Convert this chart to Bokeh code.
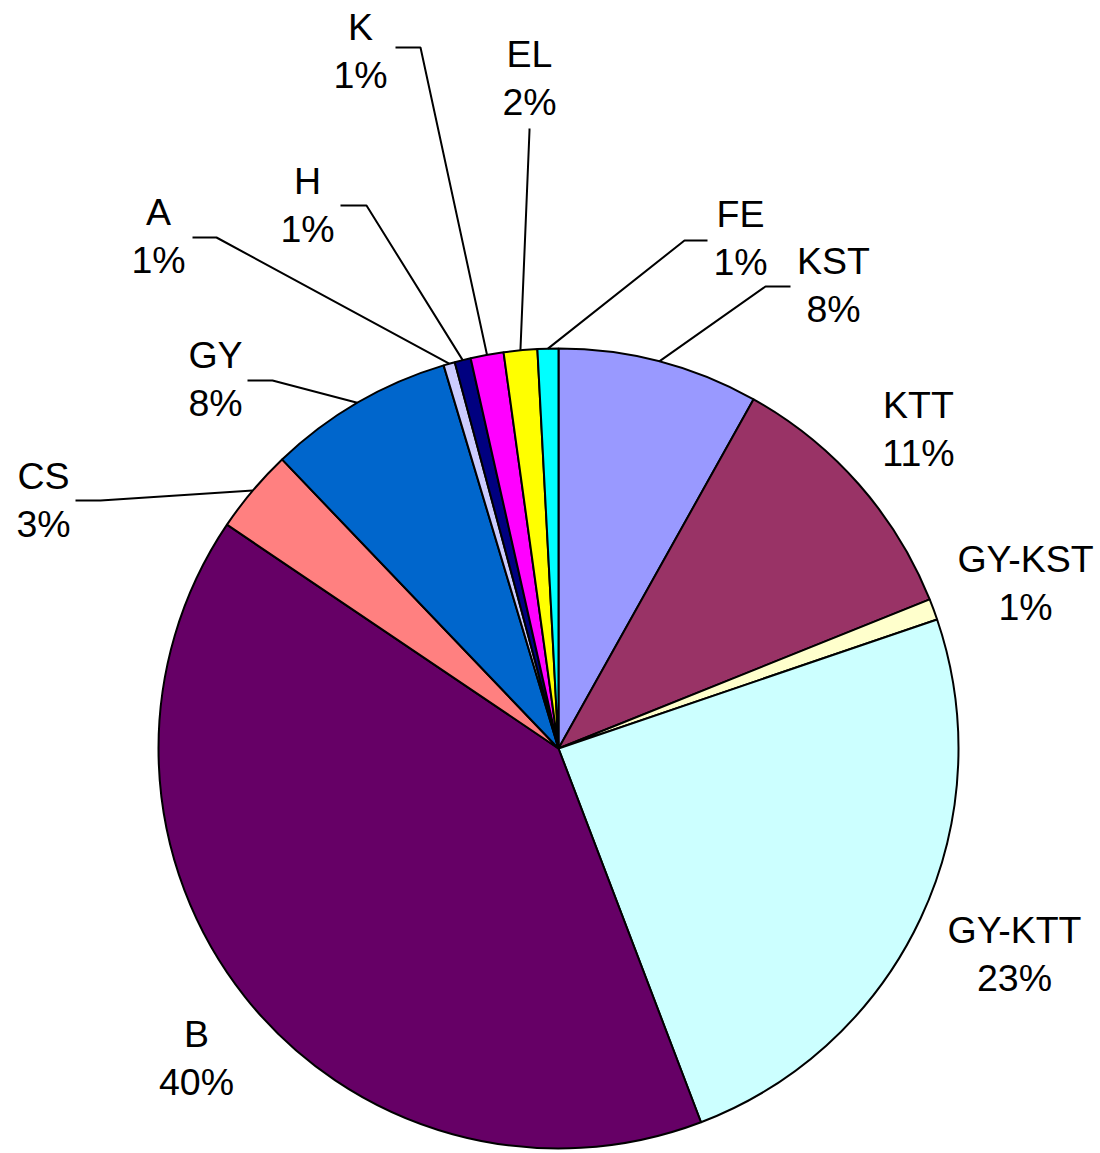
import math
from bokeh.plotting import figure
from bokeh.models import Range1d
from bokeh.core.properties import value
from bokeh.embed import file_html
from bokeh.resources import INLINE

# ---- data (clockwise from 12 o'clock) ----
categories = ["KST", "KTT", "GY-KST", "GY-KTT", "B", "CS", "GY", "A", "H", "K", "EL", "FE"]
shares = [8.1, 10.8, 0.85, 24.4, 40.2, 3.4, 7.5, 0.46, 0.65, 1.33, 1.35, 0.84]
pct_labels = ["8%", "11%", "1%", "23%", "40%", "3%", "8%", "1%", "1%", "1%", "2%", "1%"]
colors = ["#9999FF", "#993366", "#FFFFCC", "#CCFFFF", "#660066", "#FF8080",
          "#0066CC", "#CCCCFF", "#000080", "#FF00FF", "#FFFF00", "#00FFFF"]

# ---- layout (page pixel coordinates, y downward) ----
W, H = 1100, 1153
CX, CY, R = 558, 748, 400
label_pos = {
    "KST": (833, 260), "KTT": (918, 404), "GY-KST": (1025, 558), "GY-KTT": (1014, 929),
    "B": (196, 1033), "CS": (43, 475), "GY": (215, 354), "A": (158, 211),
    "H": (307, 180), "K": (360, 26), "EL": (529, 53), "FE": (740, 213),
}
LINE_GAP = 48.5
# leader: (start x, start y, elbow x, elbow y)
leaders = {
    "FE": (707, 240, 684, 240), "KST": (790, 286, 765, 286), "GY": (247, 380, 272, 380),
    "CS": (75, 500, 100, 500), "A": (192, 237, 216, 237), "H": (340, 205, 366, 205),
    "K": (395, 47, 420, 47), "EL": (529, 128, 529, 130),
}

def fy(y):
    return H - y

p = figure(width=W, height=H, output_backend="svg", toolbar_location=None,
           x_range=Range1d(0, W), y_range=Range1d(0, H),
           min_border=0, outline_line_color=None)
p.axis.visible = False
p.grid.visible = False
p.background_fill_color = "white"
p.border_fill_color = "white"

total = sum(shares)
cum = 0.0
starts, ends, mids = [], [], []
for v in shares:
    a0 = cum / total
    cum += v
    a1 = cum / total
    # bokeh angles: counterclockwise from +x; we go clockwise from top
    starts.append(math.pi / 2 - 2 * math.pi * a1)
    ends.append(math.pi / 2 - 2 * math.pi * a0)
    mids.append((a0 + a1) / 2)

p.wedge(x=[CX] * len(shares), y=[fy(CY)] * len(shares), radius=R,
        start_angle=starts, end_angle=ends, fill_color=colors,
        line_color="black", line_width=2)

# leader lines
xs, ys = [], []
for name, (sx, sy, ex, ey) in leaders.items():
    i = categories.index(name)
    th = 2 * math.pi * mids[i]
    px = CX + R * math.sin(th)
    py = CY - R * math.cos(th)
    xs.append([sx, ex, px])
    ys.append([fy(sy), fy(ey), fy(py)])
p.multi_line(xs=xs, ys=ys, line_color="black", line_width=2)

# labels
tx, ty, tt = [], [], []
for name, pct in zip(categories, pct_labels):
    x, y = label_pos[name]
    tx += [x, x]
    ty += [fy(y), fy(y + LINE_GAP)]
    tt += [name, pct]
p.text(x=tx, y=ty, text=tt, text_align="center", text_baseline="middle",
       text_font=value("Liberation Sans"), text_font_size="37.5px", text_color="black")

open("out.html", "w").write(file_html(p, INLINE))
